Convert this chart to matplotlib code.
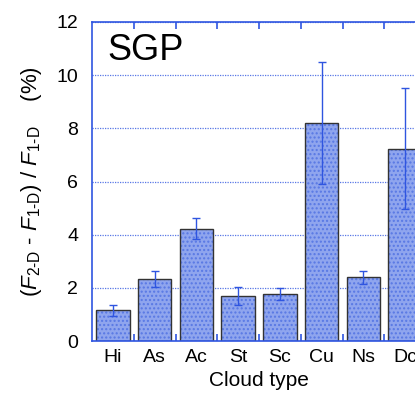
import matplotlib.pyplot as plt
import numpy as np

plt.rcParams["font.family"] = ["Liberation Sans", "DejaVu Sans"]
plt.rcParams["mathtext.fontset"] = "custom"
plt.rcParams["mathtext.rm"] = "Liberation Sans"
plt.rcParams["mathtext.it"] = "Liberation Sans:italic"
plt.rcParams["hatch.linewidth"] = 1.0

categories = ["Hi", "As", "Ac", "St", "Sc", "Cu", "Ns", "Dc"]
values = [1.15, 2.33, 4.22, 1.69, 1.78, 8.21, 2.39, 7.23]
errors = [0.2, 0.3, 0.4, 0.33, 0.22, 2.3, 0.24, 2.27]

blue = "#2f55e0"

fig = plt.figure(figsize=(4.15, 3.96), dpi=100)
ax = fig.add_axes([92 / 415, 55 / 396, 334 / 415, 319 / 396])

x = np.arange(len(categories))
# textured fill, then the dark outline on top
ax.bar(x, values, width=0.8, color="#8fa5ee", edgecolor="#5878e4",
       hatch="....", linewidth=0, zorder=2)
ax.bar(x, values, width=0.8, fill=False, edgecolor="#333333",
       linewidth=1.0, zorder=2.5)
ax.errorbar(x, values, yerr=errors, fmt="none", ecolor=blue,
            elinewidth=1.0, capsize=3, capthick=1.0, zorder=3)

ax.set_xlim(-0.5, len(categories) - 0.5)
ax.set_ylim(0, 12)
ax.set_yticks(np.arange(0, 13, 2))
ax.yaxis.grid(True, linestyle=(0, (1, 1)), color=blue, linewidth=0.9,
              alpha=0.8, zorder=0)
ax.set_axisbelow(True)

# labels at bar centres, tick marks at the category boundaries
ax.set_xticks(x)
ax.set_xticklabels(categories)
ax.set_xticks(np.arange(0.5, len(categories) - 0.5, 1.0), minor=True)
ax.tick_params(axis="x", which="major", length=0, pad=6, labelsize=14)
ax.tick_params(axis="x", which="minor", direction="in", length=5,
               color=blue, top=True, bottom=True, width=1.2)
ax.tick_params(axis="y", length=0, pad=10, labelsize=14)

for side in ["left", "bottom", "top", "right"]:
    ax.spines[side].set_color(blue)
    ax.spines[side].set_linewidth(1.2)

ax.set_xlabel("Cloud type", fontsize=15, labelpad=3)
ax.set_ylabel(r"($F_{\text{2-D}}$ - $F_{\text{1-D}}$) / $F_{\text{1-D}}$    (%)",
              fontsize=16, labelpad=9)
ax.text(0.045, 0.965, "SGP", transform=ax.transAxes, fontsize=26,
        va="top", ha="left")

fig.savefig("out.png", dpi=100)
